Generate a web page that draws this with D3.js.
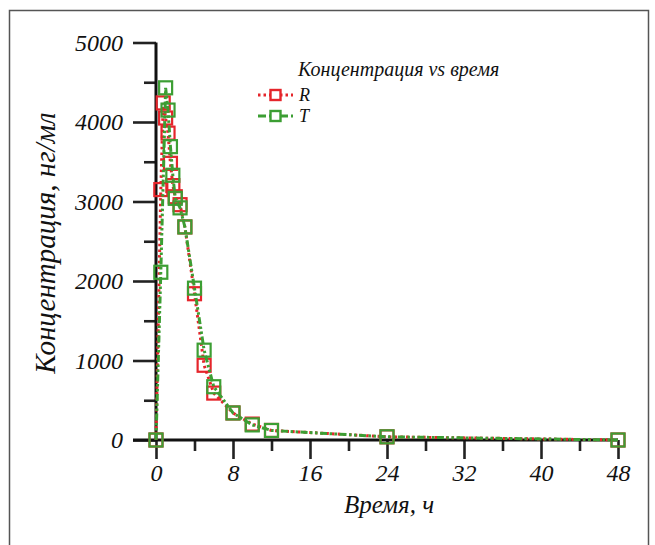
<!DOCTYPE html>
<html>
<head>
<meta charset="utf-8">
<script src="https://cdn.jsdelivr.net/npm/d3@7"></script>
<style>
  body { margin: 0; background: #fff; }
  svg text { font-family: "Liberation Serif", "Times New Roman", serif; font-style: italic; fill: #111; }
</style>
</head>
<body>
<svg id="chart" width="655" height="545"></svg>
<script>
// sampling times, hours
var times = [0, 0.5, 0.75, 1, 1.25, 1.5, 1.75, 2, 2.5, 3, 4, 5, 6, 8, 10, 12, 24, 48];
// concentration, ng/ml (null = no sample shown)
var valuesR = [0, 3150, 4240, 4050, 3860, 3480, 3200, 3060, 2960, 2680, 1840, 940, 590, 340, 200, 120, 40, 0];
var valuesT = [0, 2110, null, 4430, 4150, 3690, 3330, 3040, 2920, 2680, 1910, 1130, 670, 340, 190, 120, 40, 0];

var xTicks = [0, 8, 16, 24, 32, 40, 48];
var yTicks = [0, 1000, 2000, 3000, 4000, 5000];

var seriesNames = ['R', 'T'];
var legendTitle = 'Концентрация vs время';
var xTitle = 'Время, ч';
var yTitle = 'Концентрация, нг/мл';

var RED = '#e5252b',
    GREEN = '#3c9e33';

var svg = d3.select('#chart');

// outer frame
svg.append('path')
    .attr('d', 'M9.5,560V10.5H648.5V560')
    .attr('fill', 'none')
    .attr('stroke', '#555')
    .attr('stroke-width', 1.5);

var x = d3.scaleLinear().domain([0, 48]).range([156, 618]),
    y = d3.scaleLinear().domain([0, 5000]).range([440, 42.5]);

// y axis: minor + major ticks
var gy = svg.append('g').attr('transform', 'translate(' + x(0) + ',0)');
gy.call(d3.axisLeft(y).tickValues(d3.range(500, 5000, 1000)).tickSize(12).tickFormat('').tickSizeOuter(0));
gy.append('g').call(d3.axisLeft(y).tickValues(yTicks).tickSize(23).tickPadding(10)
    .tickFormat(d3.format('d')).tickSizeOuter(0));
gy.selectAll('.domain').remove();
gy.append('line')
    .attr('y1', y(0)).attr('y2', y(5000))
    .attr('stroke', '#111').attr('stroke-width', 3);
gy.selectAll('.tick line').attr('stroke', '#222').attr('stroke-width', 2.6);
gy.selectAll('.tick text')
    .style('font-size', '24px')
    .attr('dy', '0.33em');

// x axis
var gx = svg.append('g').attr('transform', 'translate(0,' + y(0) + ')');
gx.call(d3.axisBottom(x).tickValues(d3.range(4, 48, 8)).tickSize(11).tickFormat('').tickSizeOuter(0));
gx.append('g').call(d3.axisBottom(x).tickValues(xTicks).tickSize(19).tickPadding(5)
    .tickFormat(d3.format('d')).tickSizeOuter(0));
gx.selectAll('.domain').remove();
gx.append('line')
    .attr('x1', x(0) - 23).attr('x2', x(48))
    .attr('stroke', '#111').attr('stroke-width', 3);
gx.selectAll('.tick line').attr('stroke', '#222').attr('stroke-width', 2.6);
gx.selectAll('.tick text')
    .style('font-size', '24px')
    .attr('dy', '0.72em');

// axis titles
svg.append('text')
    .attr('x', 389).attr('y', 513)
    .attr('text-anchor', 'middle')
    .style('font-size', '25px')
    .text(xTitle);

svg.append('text')
    .attr('transform', 'translate(55,243) rotate(-90)')
    .attr('text-anchor', 'middle')
    .style('font-size', '29px')
    .text(yTitle);

// series
var series = [
    {name: seriesNames[0], values: valuesR, color: RED, dash: '2.5,3.2'},
    {name: seriesNames[1], values: valuesT, color: GREEN, dash: '7,2.5,2.5,2.5,2.5,2.5'}
];

var line = d3.line()
    .x(function(d) { return x(d.t); })
    .y(function(d) { return y(d.v); });

var MS = 13; // marker size

series.forEach(function(s) {
    var pts = times.map(function(t, i) { return {t: t, v: s.values[i]}; })
        .filter(function(d) { return d.v !== null; });
    var g = svg.append('g').attr('class', 'series');
    g.append('path')
        .datum(pts)
        .attr('d', line)
        .attr('fill', 'none')
        .attr('stroke', s.color)
        .attr('stroke-width', 3)
        .attr('stroke-dasharray', s.dash);
    g.selectAll('rect')
        .data(pts)
        .enter().append('rect')
        .attr('x', function(d) { return x(d.t) - MS / 2; })
        .attr('y', function(d) { return y(d.v) - MS / 2; })
        .attr('width', MS).attr('height', MS)
        .attr('fill', 'none')
        .attr('stroke', s.color)
        .attr('stroke-width', 2.2);
});

// legend
var lg = svg.append('g').attr('transform', 'translate(258,0)');
lg.append('text')
    .attr('x', 40).attr('y', 76)
    .style('font-size', '20px')
    .text(legendTitle);

series.forEach(function(s, i) {
    var ly = 95 + i * 21;
    lg.append('line')
        .attr('x1', 0).attr('x2', 35)
        .attr('y1', ly).attr('y2', ly)
        .attr('stroke', s.color)
        .attr('stroke-width', 3)
        .attr('stroke-dasharray', i === 0 ? '2.5,3' : '8,3');
    lg.append('rect')
        .attr('x', 12.5).attr('y', ly - 5)
        .attr('width', 10).attr('height', 10)
        .attr('fill', '#fff')
        .attr('stroke', s.color)
        .attr('stroke-width', 2.4);
    lg.append('text')
        .attr('x', 41).attr('y', ly + 6)
        .style('font-size', '18px')
        .text(s.name);
});
</script>
</body>
</html>
